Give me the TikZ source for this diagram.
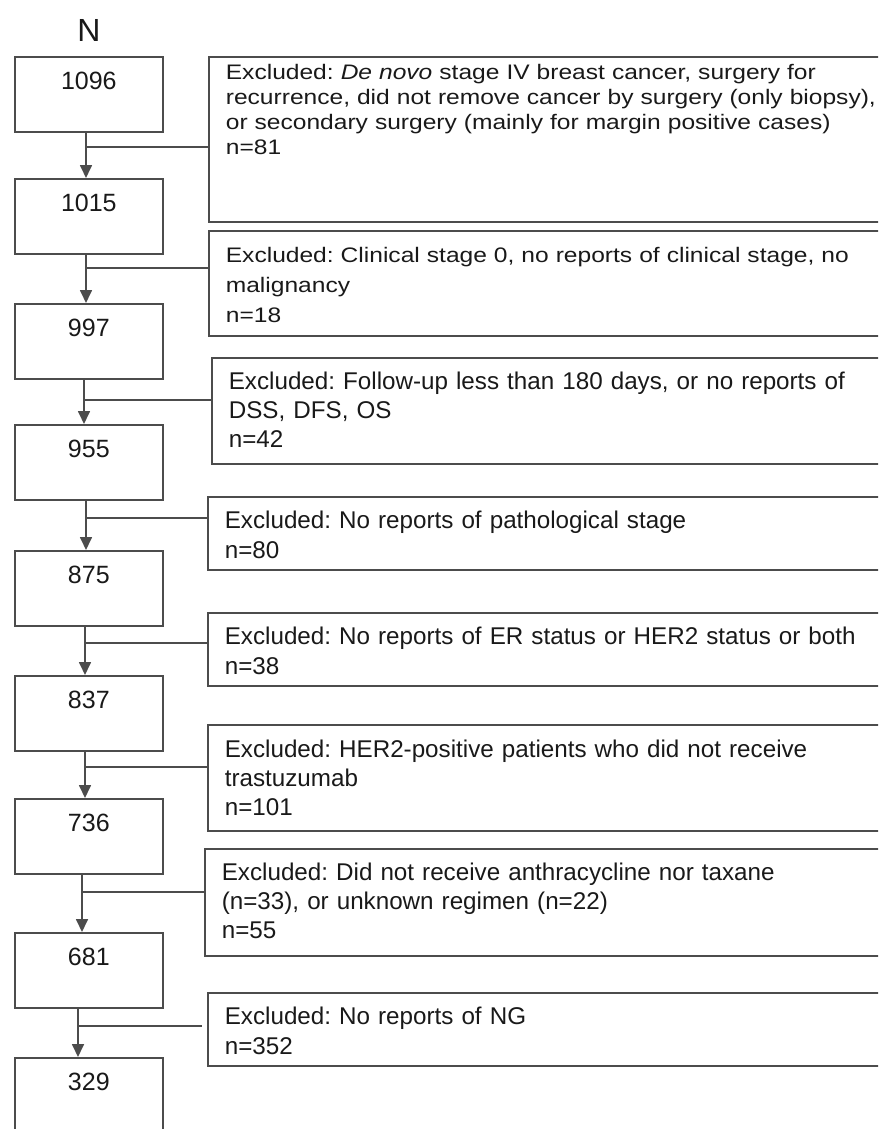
\documentclass[tikz,border=0pt]{standalone}
\usepackage{fontspec}
\setmainfont{Liberation Sans}
\newfontfamily\widesans[FakeStretch=1.17]{Liberation Sans}
\usetikzlibrary{arrows.meta}
\frenchspacing

\begin{document}
\begin{tikzpicture}[x=1pt,y=-1pt]
		\tikzstyle{num} = [draw=black!70, line width=1.7pt, rectangle, anchor=north west, inner sep=0pt, text width=148pt, align=center, text height=33pt, text depth=42pt, text=black!90, font=\fontsize{25}{29}\selectfont]
		\tikzstyle{excl} = [draw=black!70, line width=1.7pt, rectangle, anchor=north west, inner xsep=17pt, inner ysep=0pt, text width=700pt, align=left, text=black!90, font=\fontsize{24.2}{29}\selectfont]
		\tikzstyle{arr} = [draw=black!70, line width=1.7pt, -{Triangle[width=12pt,length=13pt]}]
		\tikzstyle{branch} = [draw=black!70, line width=1.7pt]
		\useasboundingbox (0,0) rectangle (878,1129);
		\clip (0,0) rectangle (878,1129);

		\node [anchor=base, text=black!90, font=\fontsize{32}{36}\selectfont] (N) at (89,42) {N};

		% counts
		\node [num] (n1096) at (14,56) {1096};
		\node [num] (n1015) at (14,178) {1015};
		\node [num] (n997) at (14,303) {997};
		\node [num] (n955) at (14,424) {955};
		\node [num] (n875) at (14,550) {875};
		\node [num] (n837) at (14,675) {837};
		\node [num] (n736) at (14,798) {736};
		\node [num] (n681) at (14,932) {681};
		\node [num, text depth=60pt] (n329) at (14,1057) {329};

		% exclusions
		\node [excl, text height=23pt, text depth=142pt, font=\widesans\fontsize{21}{25}\selectfont] (e1) at (208,56) {Excluded: \textit{De novo} stage IV breast cancer, surgery for\\recurrence, did not remove cancer by surgery (only biopsy),\\or secondary surgery (mainly for margin positive cases)\\n=81};
		\node [excl, text height=32pt, text depth=73pt, font=\widesans\fontsize{21}{30}\selectfont] (e2) at (208,230) {Excluded: Clinical stage 0, no reports of clinical stage, no\\malignancy\\n=18};
		\node [excl, text height=32pt, text depth=74pt] (e3) at (211,357) {Excluded: Follow-up less than 180 days, or no reports of\\DSS, DFS, OS\\n=42};
		\node [excl, text height=32pt, text depth=41pt, font=\fontsize{24.2}{29.5}\selectfont] (e4) at (207,496) {Excluded: No reports of pathological stage\\n=80};
		\node [excl, text height=32pt, text depth=41pt, font=\fontsize{24.2}{29.5}\selectfont] (e5) at (207,612) {Excluded: No reports of ER status or HER2 status or both\\n=38};
		\node [excl, text height=33pt, text depth=73pt] (e6) at (207,724) {Excluded: HER2-positive patients who did not receive\\trastuzumab\\n=101};
		\node [excl, text height=32pt, text depth=75pt] (e7) at (204,848) {Excluded: Did not receive anthracycline nor taxane\\(n=33), or unknown regimen (n=22)\\n=55};
		\node [excl, text height=32pt, text depth=41pt, font=\fontsize{24.2}{29.5}\selectfont] (e8) at (207,992) {Excluded: No reports of NG\\n=352};

		\coordinate (j1) at (86,147);
		\coordinate (j2) at (86,268);
		\coordinate (j3) at (84,400);
		\coordinate (j4) at (86,518);
		\coordinate (j5) at (85,643);
		\coordinate (j6) at (85,767);
		\coordinate (j7) at (82,892);
		\coordinate (j8) at (78,1026);

		\draw[arr] (n1096.south -| j1) -- (n1015.north -| j1);
		\draw[arr] (n1015.south -| j2) -- (n997.north -| j2);
		\draw[arr] (n997.south -| j3) -- (n955.north -| j3);
		\draw[arr] (n955.south -| j4) -- (n875.north -| j4);
		\draw[arr] (n875.south -| j5) -- (n837.north -| j5);
		\draw[arr] (n837.south -| j6) -- (n736.north -| j6);
		\draw[arr] (n736.south -| j7) -- (n681.north -| j7);
		\draw[arr] (n681.south -| j8) -- (n329.north -| j8);

		\draw[branch] (j1) -- (j1 -| e1.west);
		\draw[branch] (j2) -- (j2 -| e2.west);
		\draw[branch] (j3) -- (j3 -| e3.west);
		\draw[branch] (j4) -- (j4 -| e4.west);
		\draw[branch] (j5) -- (j5 -| e5.west);
		\draw[branch] (j6) -- (j6 -| e6.west);
		\draw[branch] (j7) -- (j7 -| e7.west);
		\draw[branch, shorten >=5pt] (j8) -- (j8 -| e8.west);
	\end{tikzpicture}
\end{document}
